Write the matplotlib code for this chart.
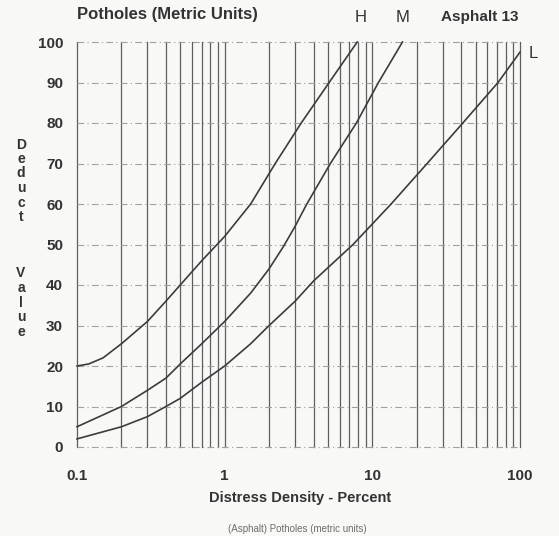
import numpy as np
import matplotlib
matplotlib.use('Agg')
import matplotlib.pyplot as plt

plt.rcParams['font.family'] = ['Liberation Sans', 'DejaVu Sans']

# values (density in %, deduct value)
density_H = [0.1, 0.12, 0.15, 0.2, 0.3, 0.4, 0.5, 0.7, 1, 1.5, 2.2, 3.3, 5.1, 7.9]
deduct_H = [20, 20.5, 22, 25.5, 31, 36, 40, 46, 52, 60, 70, 80, 90, 100]

density_M = [0.1, 0.2, 0.3, 0.4, 0.5, 0.7, 1, 1.5, 2, 2.5, 3, 3.6, 5.2, 7.8, 11, 16]
deduct_M = [5, 10, 14, 17, 20.5, 25.5, 31, 38, 44, 49.5, 54.5, 60, 70, 80, 90, 100]

density_L = [0.1, 0.2, 0.3, 0.4, 0.5, 0.7, 1, 1.5, 2, 3, 4, 7.4, 13.4, 23.5, 41, 71, 100]
deduct_L = [2, 5, 7.5, 10, 12, 16, 20, 25.5, 30, 36, 41, 50, 60, 70, 80, 90, 97.5]

x_ticks = [0.1, 1, 10, 100]
x_ticklabels = ['0.1', '1', '10', '100']
y_ticks = [0, 10, 20, 30, 40, 50, 60, 70, 80, 90, 100]

W, H = 559, 536
fig = plt.figure(figsize=(W / 100, H / 100), dpi=100)
fig.patch.set_facecolor('#f8f8f7')

ax = fig.add_axes([77 / W, 1 - 447 / H, (520 - 77) / W, (447 - 42) / H])
ax.set_facecolor('none')
ax.set_xscale('log')
ax.set_xlim(0.1, 100)
ax.set_ylim(0, 100)
for s in ax.spines.values():
    s.set_visible(False)

# vertical log grid (solid) and dashed horizontal grid
vgrid = np.concatenate([np.arange(1, 10) * 10.0 ** k for k in (-1, 0, 1)] + [[100.0]])
for v in vgrid:
    ax.axvline(v, color='#5e5e5e', lw=0.9, clip_on=False, zorder=1)
for yv in y_ticks:
    ax.axhline(yv, color='#a0a0a0', lw=0.8, ls=(0, (6, 3, 1, 3)), clip_on=False, zorder=1)

txt = '#333333'
ax.set_xticks(x_ticks)
ax.set_xticklabels(x_ticklabels)
ax.xaxis.set_minor_locator(matplotlib.ticker.NullLocator())
ax.set_yticks(y_ticks)
ax.tick_params(length=0, labelsize=11, labelcolor=txt)
ax.tick_params(axis='x', pad=16)
ax.tick_params(axis='y', pad=10)
for lab in ax.get_xticklabels() + ax.get_yticklabels():
    lab.set_fontweight('bold')

for d, v in [(density_H, deduct_H), (density_M, deduct_M), (density_L, deduct_L)]:
    ax.plot(d, v, color='#3c3c3c', lw=1.2, zorder=3, clip_on=False)

def ftext(x, y, s, **kw):
    fig.text(x / W, 1 - y / H, s, color=txt, va='center', **kw)

ftext(167, 15, 'Potholes (Metric Units)', ha='center', fontsize=12, fontweight='bold')
ftext(361, 18, 'H', ha='center', fontsize=12)
ftext(403, 18, 'M', ha='center', fontsize=12)
ftext(480, 17, 'Asphalt 13', ha='center', fontsize=11, fontweight='bold')
ftext(533, 53, 'L', ha='center', fontsize=12)
ftext(300, 498, 'Distress Density - Percent', ha='center', fontsize=10.5, fontweight='bold')
ftext(297, 529, '(Asphalt) Potholes (metric units)', ha='center', fontsize=7, alpha=0.7)

letters_y = [145, 159, 173, 188, 203, 217, 273, 288, 303, 317, 332]
for ch, yy in zip('DeductValue', letters_y):
    ftext(21, yy, ch, ha='center', fontsize=10, fontweight='bold')

fig.savefig('out.png', dpi=100, facecolor=fig.get_facecolor())
